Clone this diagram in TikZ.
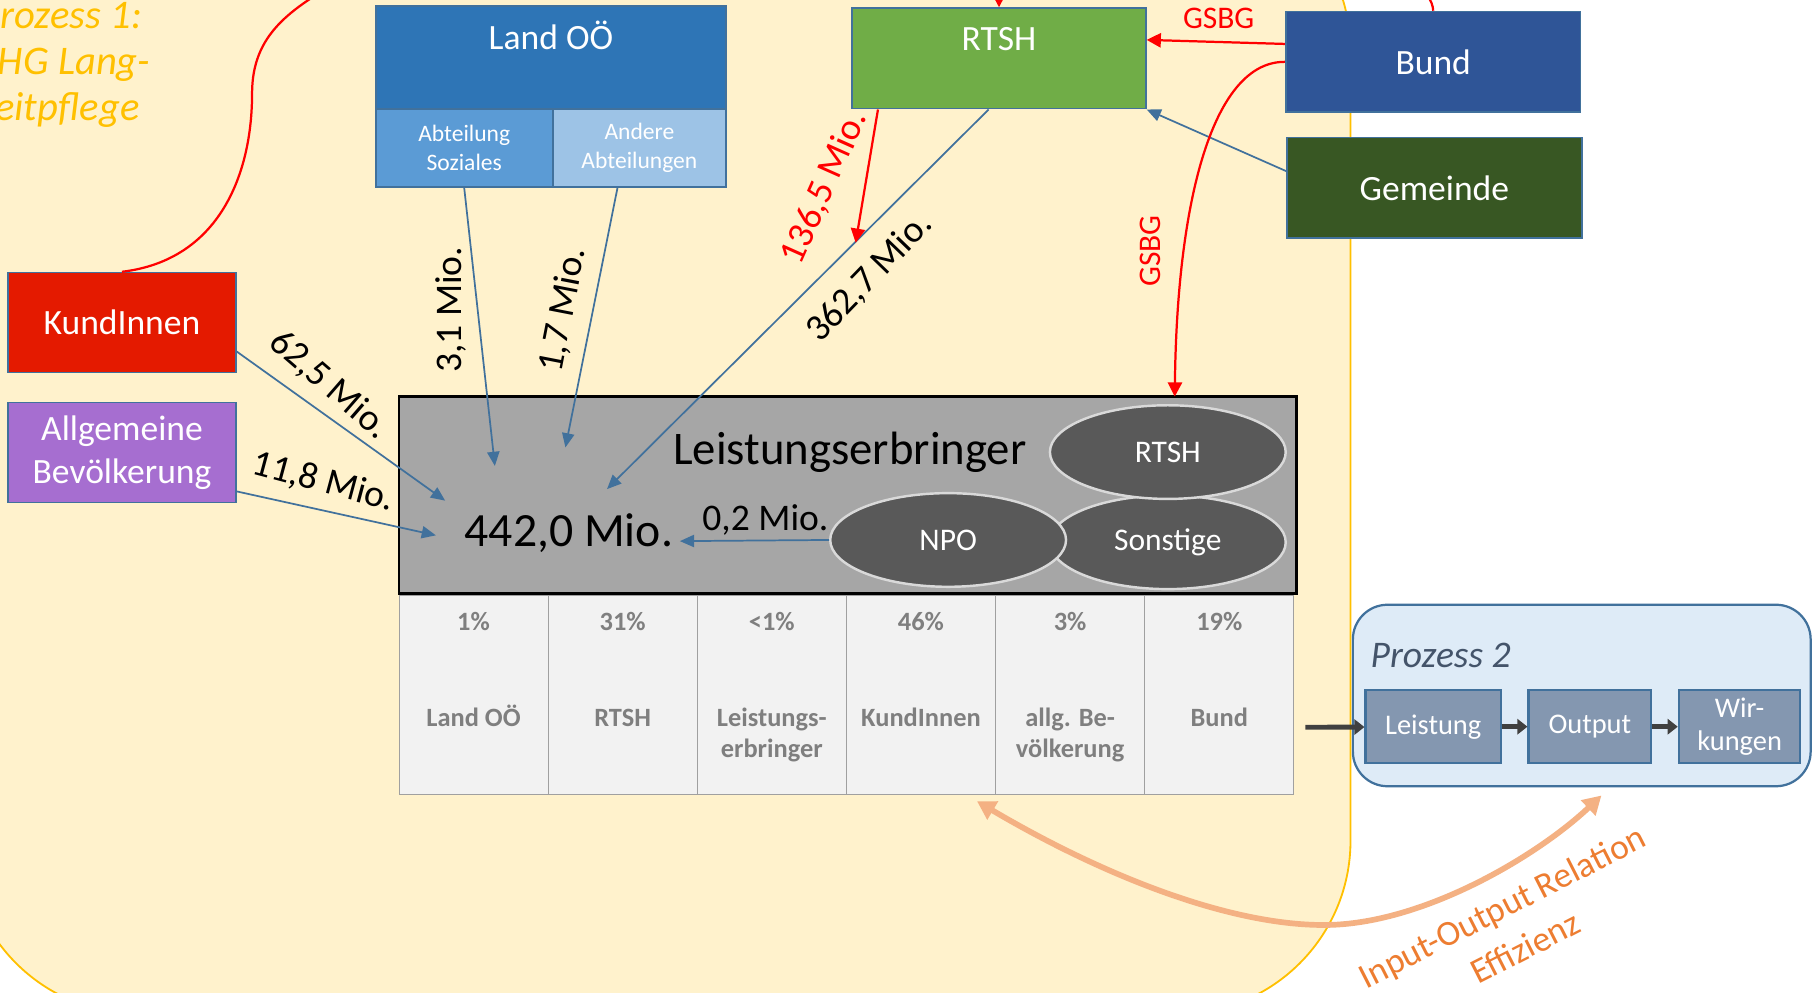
\documentclass[tikz,border=0pt]{standalone}
\usepackage{fontspec}
\setmainfont{Carlito}
\usetikzlibrary{arrows.meta}
\usetikzlibrary{shapes.geometric}

\definecolor{gelbbg}{HTML}{FFF2CC}
\definecolor{gelbrand}{HTML}{FFC000}
\definecolor{rand}{HTML}{41719C}
\definecolor{landblau}{HTML}{2E75B6}
\definecolor{sozblau}{HTML}{5B9BD5}
\definecolor{andblau}{HTML}{9DC3E6}
\definecolor{rtshgruen}{HTML}{70AD47}
\definecolor{bundblau}{HTML}{2F5597}
\definecolor{gemgruen}{HTML}{385723}
\definecolor{kundrot}{HTML}{E41A00}
\definecolor{allglila}{HTML}{A66ED0}
\definecolor{leistgrau}{HTML}{A6A6A6}
\definecolor{ellgrau}{HTML}{595959}
\definecolor{ellrand}{HTML}{D9D9D9}
\definecolor{zelle}{HTML}{F2F2F2}
\definecolor{zellrand}{HTML}{A0A0A0}
\definecolor{tabtext}{HTML}{7F7F7F}
\definecolor{prozbg}{HTML}{DEEBF7}
\definecolor{prozbox}{HTML}{8497B0}
\definecolor{proztitel}{HTML}{44546A}
\definecolor{pfeildunkel}{HTML}{404040}
\definecolor{orangepfeil}{HTML}{F4B183}
\definecolor{orangetext}{HTML}{ED7D31}

\newcommand{\fsz}[2]{\fontsize{#1}{#2}\selectfont}

\begin{document}
\begin{tikzpicture}[x=0.02cm, y=-0.02cm,
  box/.style={draw=rand, line width=0.8pt, text=white, inner sep=0pt, align=center, font=\fsz{17.5}{21}},
  subbox/.style={box, font=\fsz{11.6}{14.5}, minimum width=3cm, minimum height=1.36cm},
  topbox/.style={box, minimum width=5.1cm, minimum height=1.74cm},
  leftbox/.style={box, minimum width=3.94cm, minimum height=1.73cm},
  oval/.style={ellipse, draw=ellrand, line width=1.2pt, fill=ellgrau, text=white, minimum width=4.08cm, minimum height=1.62cm, inner sep=0pt, font=\fsz{15.5}{18}},
  cell/.style={draw=zellrand, line width=0.4pt, fill=zelle, minimum width=2.58cm, minimum height=3.44cm, inner sep=0pt},
  pct/.style={text=tabtext, font=\bfseries\fsz{13}{15}, inner sep=0pt, anchor=base, align=center},
  amount/.style={font=\fsz{18.5}{22}, inner sep=0pt},
  flow/.style={draw=rand, line width=0.85pt, -{Triangle[length=7pt,width=6pt]}},
  gsbg/.style={draw=red, line width=1.1pt, -{Triangle[length=7pt,width=7pt]}},
  prozpfeil/.style={draw=pfeildunkel, line width=2.4pt, -{Triangle[length=5pt,width=7.5pt]}},
  innerbox/.style={box, fill=prozbox, line width=1.1pt, minimum height=1.26cm, font=\fsz{14}{16.5}}
]
\useasboundingbox (0,0) rectangle (1568,858);
\clip (0,0) rectangle (1568,858);
\fill[white] (0,0) rectangle (1568,858);

% Prozess 1
\draw[fill=gelbbg, draw=gelbrand, line width=0.9pt, rounded corners=3cm] (-30,-106) rectangle (1168,877);
\node[anchor=north west, inner sep=0pt, align=left, text=gelbrand, font=\itshape\fsz{20}{22.5}] (proz1) at (-18,2) {Prozess 1:\\SHG Lang-\\zeitpflege};

% Geldgeber
\node[box, fill=landblau, minimum width=6.06cm, minimum height=1.78cm] (land) at (476.5,49.5) {};
\node[box, draw=none, anchor=base] (landtxt) at (476.5,43) {Land OÖ};
\node[subbox, fill=sozblau, minimum width=3.06cm] (soz) at (401.5,128) {Abteilung\\Soziales};
\node[subbox, fill=andblau] (andere) at (553,128) {Andere\\Abteilungen};

\node[topbox, fill=rtshgruen, minimum width=5.08cm] (rtsh) at (864,50.5) {};
\node[box, draw=none, anchor=base] (rtshtxt) at (864,44) {RTSH};
\node[topbox, fill=bundblau] (bund) at (1239.5,53.5) {Bund};
\node[topbox, fill=gemgruen] (gem) at (1240.5,162.5) {Gemeinde};

\node[leftbox, fill=kundrot] (kund) at (105.5,279) {KundInnen};
\node[leftbox, fill=allglila] (allg) at (105.5,391.5) {Allgemeine\\Bevölkerung};

% Leistungserbringer
\node[draw=black, line width=1.4pt, fill=leistgrau, minimum width=15.52cm, minimum height=3.4cm, inner sep=0pt] (leist) at (733,428) {};
\node[anchor=base, inner sep=0pt, font=\fsz{23}{27}] (leisttxt) at (735,402) {Leistungserbringer};
\node[anchor=base, inner sep=0pt, font=\fsz{23.5}{28}] (total) at (492,473) {442,0 Mio.};
\node[oval] (sonst) at (1010,469) {Sonstige};
\node[oval] (npo) at (820,467) {NPO};
\node[oval] (rtshell) at (1010,391) {RTSH};

% Anteile
\node[cell] (c1) at (409.5,601) {};
\node[cell] (c2) at (538.5,601) {};
\node[cell] (c3) at (667.5,601) {};
\node[cell] (c4) at (796.5,601) {};
\node[cell] (c5) at (925.5,601) {};
\node[cell] (c6) at (1054.5,601) {};
\node[pct] (p1) at (409.5,545) {1\%};
\node[pct] (p2) at (538.5,545) {31\%};
\node[pct] (p3) at (667.5,545) {<1\%};
\node[pct] (p4) at (796.5,545) {46\%};
\node[pct] (p5) at (925.5,545) {3\%};
\node[pct] (p6) at (1054.5,545) {19\%};
\node[pct] (t1) at (409.5,628.5) {Land OÖ};
\node[pct] (t2) at (538.5,628.5) {RTSH};
\node[pct] (t3) at (667.5,655) {Leistungs-\\erbringer};
\node[pct] (t4) at (796.5,628.5) {KundInnen};
\node[pct] (t5) at (925.5,655) {allg. Be-\\völkerung};
\node[pct] (t6) at (1054.5,628.5) {Bund};

% Prozess 2
\node[draw=rand, line width=1.1pt, fill=prozbg, rounded corners=0.6cm, minimum width=7.92cm, minimum height=3.14cm, inner sep=0pt] (proz2) at (1368,601.5) {};
\node[anchor=base west, inner sep=0pt, text=proztitel, font=\itshape\fsz{18.5}{22}] (proz2txt) at (1185,577) {Prozess 2};
\node[innerbox, minimum width=2.34cm] (leistung) at (1239.5,628.5) {Leistung};
\node[innerbox, minimum width=2.12cm] (output) at (1375,628.5) {Output};
\node[innerbox, minimum width=2.1cm] (wirk) at (1504.5,628.5) {Wir-\\kungen};
\coordinate (p0) at (1129,629);
\draw[prozpfeil] (p0) -- (leistung);
\draw[prozpfeil] (leistung) -- (output);
\draw[prozpfeil] (output) -- (wirk);

% Geldfluesse
\coordinate (zk) at (385,433);
\coordinate (za) at (377,463);
\coordinate (zs) at (428,403);
\coordinate (zan) at (489,387);
\coordinate (zr) at (525,423);
\coordinate (zn) at (588,468);
\coordinate (zb) at (1016,343);
\coordinate (zrot) at (740,210);
\coordinate (oben) at (300,-20);

\draw[flow] ([yshift=-0.5cm]kund.east) -- (zk);
\draw[flow] ([yshift=-0.67cm]allg.east) -- (za);
\draw[flow] (soz.south) -- (zs);
\draw[flow] ([xshift=-0.38cm]andere.south) -- (zan);
\draw[flow] ([xshift=-0.18cm]rtsh.south) -- (zr);
\draw[flow] (npo.west) -- (zn);
\draw[flow] ([yshift=0.29cm]gem.west) -- (rtsh.south east);
\draw[gsbg] ([xshift=0.46cm]rtsh.south west) -- (zrot);
\draw[gsbg] ([yshift=0.31cm]bund.west) -- ([yshift=0.32cm]rtsh.east);
\draw[gsbg] (bund.west) .. controls (1050,53) and (1018,170) .. (zb);
\draw[gsbg] (bund.north) .. controls (1237,-60) and (864,-80) .. (rtsh.north);
\draw[red, line width=1.1pt] (kund.north) .. controls (190,225) and (218,150) .. (218,81) .. controls (218,30) and (250,8) .. (oben);

\node[amount, rotate=-41] (l625) at (285,333) {62,5 Mio.};
\node[amount, rotate=-15] (l118) at (280,417) {11,8 Mio.};
\node[amount, rotate=90] (l31) at (390,268) {3,1 Mio.};
\node[amount, rotate=79] (l17) at (487,268) {1,7 Mio.};
\node[amount, rotate=46] (l3627) at (752,240) {362,7 Mio.};
\node[amount, rotate=66, text=red] (l1365) at (713,162) {136,5 Mio.};
\node[amount] (l02) at (662,450) {0,2 Mio.};
\node[amount, text=red, font=\fsz{15.5}{18}] (gsbg1) at (1054,16) {GSBG};
\node[amount, text=red, font=\fsz{15.5}{18}, rotate=90] (gsbg2) at (995,217) {GSBG};

% Effizienz
\coordinate (io1) at (845,693);
\coordinate (io2) at (1385,688);
\draw[orangepfeil, line width=2.8pt, {Triangle[length=9pt,width=10pt]}-{Triangle[length=9pt,width=10pt]}] (io1) .. controls (950,755) and (1060,800) .. (1145,800) .. controls (1230,800) and (1330,740) .. (io2);
\node[text=orangetext, rotate=27, font=\fsz{17.5}{21}, inner sep=0pt] (iotxt) at (1300,786) {Input-Output Relation};
\node[text=orangetext, rotate=27, font=\fsz{17.5}{21}, inner sep=0pt] (efftxt) at (1319,819) {Effizienz};
\end{tikzpicture}
\end{document}
